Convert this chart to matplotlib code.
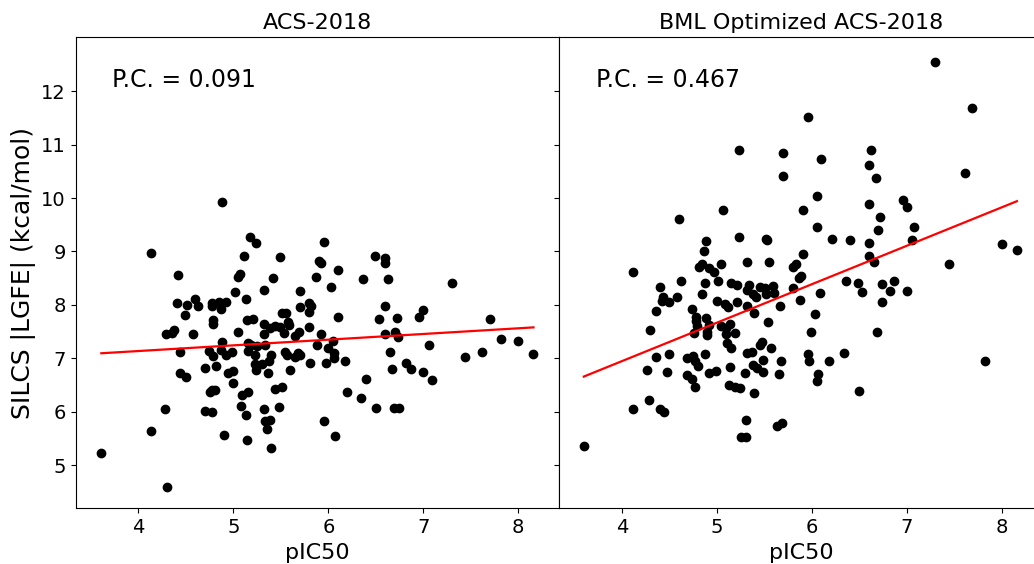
import numpy as np
import matplotlib
matplotlib.use("Agg")
import matplotlib.pyplot as plt

# values (pIC50, |LGFE| in kcal/mol)
acs_x = [4.88, 4.13, 5.17, 5.24, 5.11, 5.49, 4.42, 5.05, 5.07, 5.42,
         5.32, 5.02, 5.70, 5.13, 4.41, 4.51, 4.60, 4.63, 4.77, 4.77,
         4.85, 4.92, 4.87, 4.49, 4.79, 4.79, 5.14, 5.21, 5.32, 5.70,
         5.80, 5.82, 5.80, 5.51, 5.55, 5.58, 5.59, 5.39, 5.44, 5.49,
         5.53, 5.32, 5.80, 5.69, 5.65, 4.29, 4.37, 4.35, 4.58, 5.05,
         4.88, 4.44, 4.74, 4.79, 4.87, 4.92, 4.99, 5.15, 5.19, 5.15,
         5.23, 5.25, 5.33, 5.40, 5.38, 5.54, 5.56, 5.65, 5.68, 5.70,
         5.81, 5.88, 4.70, 4.82, 5.23, 5.24, 5.30, 5.37, 4.94, 5.00,
         5.60, 4.44, 4.50, 5.00, 4.75, 4.78, 4.81, 5.09, 5.15, 5.44,
         5.51, 5.08, 5.13, 4.28, 4.70, 4.77, 5.32, 5.48, 5.33, 5.39,
         5.35, 4.13, 4.90, 5.14, 5.40, 3.61, 4.30,
         5.95, 5.90, 5.92, 6.10, 5.87, 6.03, 6.49, 6.60, 6.60, 6.37,
         6.63, 7.30, 6.10, 6.60, 6.53, 6.72, 6.95, 7.00, 7.70, 5.92,
         6.05, 6.00, 6.06, 6.06, 5.98, 6.18, 6.60, 6.70, 6.73, 6.65,
         7.06, 6.67, 6.82, 6.87, 7.00, 7.09, 7.44, 7.62, 7.82, 8.00,
         8.16, 6.40, 6.20, 6.34, 6.50, 6.69, 6.74, 5.95, 6.07]
acs_y = [9.92, 8.97, 9.27, 9.15, 8.92, 8.90, 8.56, 8.52, 8.57, 8.51,
         8.28, 8.24, 8.26, 8.11, 8.03, 8.00, 8.11, 7.98, 8.03, 7.97,
         8.06, 8.05, 7.93, 7.81, 7.72, 7.65, 7.72, 7.73, 7.65, 7.95,
         8.03, 7.97, 7.87, 7.85, 7.84, 7.68, 7.62, 7.56, 7.60, 7.58,
         7.47, 7.46, 7.59, 7.50, 7.41, 7.46, 7.53, 7.47, 7.46, 7.50,
         7.31, 7.11, 7.14, 7.05, 7.16, 7.06, 7.11, 7.28, 7.25, 7.13,
         7.06, 7.22, 7.25, 7.06, 6.94, 7.11, 7.06, 7.03, 7.10, 7.06,
         6.91, 7.25, 6.82, 6.85, 6.90, 6.78, 6.90, 6.73, 6.73, 6.76,
         6.78, 6.72, 6.65, 6.54, 6.37, 6.40, 6.41, 6.32, 6.37, 6.43,
         6.46, 6.11, 5.93, 6.04, 6.02, 5.99, 6.04, 6.08, 5.83, 5.85,
         5.68, 5.63, 5.57, 5.46, 5.32, 5.23, 4.59,
         9.17, 8.82, 8.79, 8.65, 8.52, 8.33, 8.92, 8.87, 8.79, 8.49,
         8.48, 8.41, 7.77, 7.97, 7.74, 7.76, 7.77, 7.90, 7.74, 7.46,
         7.33, 7.19, 7.10, 7.00, 6.91, 6.94, 7.46, 7.50, 7.39, 7.11,
         7.25, 6.80, 6.91, 6.80, 6.75, 6.59, 7.03, 7.11, 7.36, 7.33,
         7.08, 6.61, 6.37, 6.26, 6.06, 6.07, 6.06, 5.82, 5.55]

bml_x = [7.30, 7.69, 5.96, 5.23, 5.70, 6.10, 6.62, 6.60, 6.68, 7.61,
         5.70, 6.06, 6.60, 6.96, 7.00, 5.91, 5.07, 4.60, 6.72, 6.06,
         6.70, 7.08, 6.21, 6.40, 6.60, 7.06, 8.00, 8.16, 5.23, 5.52,
         5.53, 4.89, 4.87, 5.91, 6.60, 6.66, 7.44, 4.12, 4.81, 4.84,
         4.92, 5.04, 5.32, 5.55, 5.80, 5.83, 5.87, 5.89, 4.97, 5.01,
         4.62, 4.40, 4.88, 4.84, 5.15, 5.21, 5.34, 5.32, 5.38, 5.41,
         5.46, 5.51, 5.59, 5.60, 5.52, 5.80, 6.09, 6.36, 6.49, 6.53,
         6.74, 6.82, 6.87, 7.00, 6.74, 4.43, 4.42, 4.50, 4.58, 4.36,
         4.30, 4.74, 4.78, 4.78, 4.76, 4.89, 4.79, 5.88, 5.00, 5.09,
         5.12, 5.21, 5.32, 5.39, 5.67, 6.03, 4.92, 4.90, 4.90, 5.04,
         5.10, 5.14, 5.10, 5.19, 5.11, 5.15, 5.54, 5.45, 5.48, 5.57,
         5.99, 6.69, 5.32, 5.37, 4.88, 5.49, 5.38, 5.42, 5.68, 5.96,
         5.97, 6.18, 6.34, 7.82, 5.14, 4.92, 4.99, 5.30, 5.49, 5.65,
         6.07, 6.05, 5.13, 5.19, 5.24, 5.39, 6.50, 5.31, 5.63, 5.69,
         5.25, 5.31, 4.36, 4.50, 4.27, 4.48, 4.69, 4.75, 4.77, 4.80,
         4.69, 4.74, 4.77, 4.29, 4.12, 4.40, 4.44, 3.60]
bml_y = [12.54, 11.68, 11.52, 10.90, 10.85, 10.74, 10.90, 10.61, 10.37, 10.47,
         10.42, 10.04, 9.88, 9.96, 9.83, 9.78, 9.77, 9.60, 9.64, 9.45,
         9.41, 9.45, 9.23, 9.21, 9.15, 9.21, 9.14, 9.03, 9.27, 9.24,
         9.21, 9.19, 9.01, 8.96, 8.92, 8.80, 8.77, 8.61, 8.71, 8.77,
         8.69, 8.77, 8.80, 8.80, 8.71, 8.76, 8.51, 8.54, 8.61, 8.45,
         8.44, 8.33, 8.40, 8.20, 8.40, 8.38, 8.37, 8.28, 8.20, 8.15,
         8.34, 8.31, 8.36, 8.23, 8.20, 8.31, 8.23, 8.44, 8.41, 8.24,
         8.39, 8.26, 8.44, 8.26, 8.06, 8.15, 8.08, 8.05, 8.15, 7.89,
         7.52, 7.92, 7.78, 7.70, 7.47, 7.75, 7.61, 8.09, 8.07, 8.01,
         7.96, 8.05, 7.98, 7.85, 7.98, 7.82, 7.62, 7.50, 7.44, 7.61,
         7.57, 7.65, 7.45, 7.48, 7.28, 7.19, 7.67, 7.25, 7.30, 7.20,
         7.49, 7.50, 7.10, 7.11, 7.08, 6.97, 6.88, 6.82, 6.94, 7.08,
         6.94, 6.95, 7.10, 6.95, 6.83, 6.72, 6.77, 6.73, 6.75, 6.70,
         6.70, 6.58, 6.50, 6.47, 6.44, 6.35, 6.38, 5.85, 5.74, 5.79,
         5.53, 5.53, 7.03, 7.08, 6.78, 6.74, 7.00, 7.05, 6.94, 6.85,
         6.69, 6.62, 6.46, 6.22, 6.05, 6.05, 5.99, 5.35]

titles = ["ACS-2018", "BML Optimized ACS-2018"]
pc_labels = ["P.C. = 0.091", "P.C. = 0.467"]

fig, axes = plt.subplots(1, 2, sharey=True, figsize=(10.34, 5.64), dpi=100)
fig.subplots_adjust(left=0.0732, right=1.0083, bottom=0.0988, top=0.9339, wspace=0)

for ax, xs, ys, title, pc in zip(axes, [acs_x, bml_x], [acs_y, bml_y], titles, pc_labels):
    xs = np.array(xs)
    ys = np.array(ys)
    ax.scatter(xs, ys, color="k", s=36)
    slope, intercept = np.polyfit(xs, ys, 1)
    xl = np.array([xs.min(), xs.max()])
    ax.plot(xl, slope * xl + intercept, color="r", lw=1.6)
    ax.set_title(title, fontsize=16)
    ax.set_xlabel("pIC50", fontsize=16)
    ax.text(0.076, 0.91, pc, transform=ax.transAxes, fontsize=17, va="center")
    ax.tick_params(labelsize=14)
    ax.set_xticks([4, 5, 6, 7, 8])
    ax.set_xlim(3.34, 8.43)

axes[0].set_ylabel("SILCS |LGFE| (kcal/mol)", fontsize=18)
axes[0].set_yticks([5, 6, 7, 8, 9, 10, 11, 12])
axes[0].set_ylim(4.19, 13.01)

plt.savefig("out.png", dpi=100)
